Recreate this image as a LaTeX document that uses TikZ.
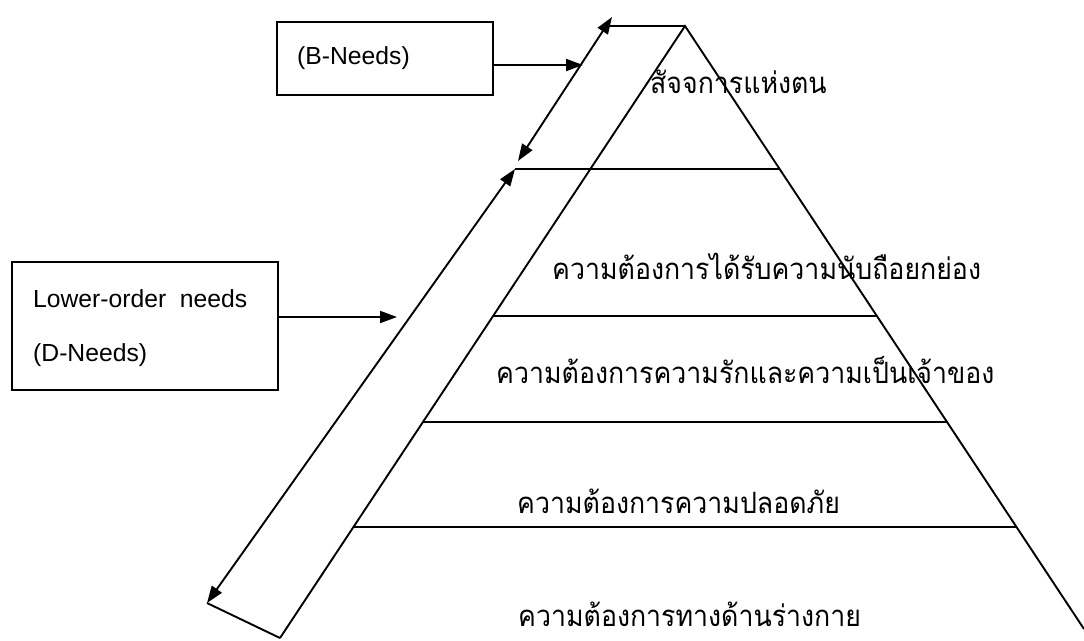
\documentclass[tikz,border=0pt]{standalone}
\usepackage{fontspec}
\usepackage{graphicx}
\setmainfont{Liberation Sans}
\newfontfamily\thaifont[Script=Thai]{Loma}
\newcommand{\thtext}[1]{\scalebox{1}[1.1]{#1}}
\usetikzlibrary{arrows.meta}
\begin{document}
\begin{tikzpicture}[x=1pt,y=-1pt,
  ln/.style={line width=1.9pt},
  arr/.style={ln,-{Triangle[length=17pt,width=12pt]}},
  darr/.style={ln,{Triangle[length=17pt,width=12pt]}-{Triangle[length=17pt,width=12pt]}},
  box/.style={draw,line width=1.9pt,inner sep=0pt},
  eng/.style={font=\fontsize{24.7}{54}\selectfont,inner sep=0pt},
  thai/.style={font=\thaifont\fontsize{26.7}{32}\selectfont,anchor=west,inner sep=0pt}]
\useasboundingbox (0,0) rectangle (1084,640);
% boxes
\node[box,minimum width=216pt,minimum height=73pt] (bbox) at (385,58.5) {};
\node[eng,anchor=west] (btext) at (297,58) {(B-Needs)};
\node[box,minimum width=266pt,minimum height=128pt] (dbox) at (145,326) {};
\node[eng,anchor=base west] (dtext1) at (33,307) {Lower-order\hspace{0.55em}needs};
\node[eng,anchor=base west] (dtext2) at (33,361) {(D-Needs)};
% pyramid
\coordinate (A) at (685,26);
\coordinate (BL) at (280,638);
\coordinate (BR) at (1084,629);
\draw[ln] (BL) -- (A) -- (BR);
\coordinate (L1a) at (515,169); \coordinate (L1b) at (779.8,169);
\coordinate (L2a) at (492.8,316); \coordinate (L2b) at (877.2,316);
\coordinate (L3a) at (422.5,422); \coordinate (L3b) at (947.5,422);
\coordinate (L4a) at (352.9,527); \coordinate (L4b) at (1017.1,527);
\draw[ln] (L1a) -- (L1b);
\draw[ln] (L2a) -- (L2b);
\draw[ln] (L3a) -- (L3b);
\draw[ln] (L4a) -- (L4b);
% outer band
\coordinate (T) at (612,17);
\coordinate (Ttop) at (606,26);
\coordinate (M1) at (518,161);
\coordinate (M2) at (515,169);
\coordinate (Bt) at (207,603);
\draw[ln] (A) -- (Ttop);
\draw[darr] (M1) -- (T);
\draw[darr] (M2) -- (Bt);
\draw[ln] (Bt) -- (BL);
% arrows from boxes
\coordinate (btip) at (583,65);
\coordinate (dtip) at (397,317);
\draw[arr] (bbox.east |- btip) -- (btip);
\draw[arr] (dbox.east |- dtip) -- (dtip);
% labels
\node[thai] (t1) at (650,82) {\thtext{สัจจการแห่งตน}};
\node[thai] (t2) at (552,266) {\thtext{ความต้องการได้รับความนับถือยกย่อง}};
\node[thai] (t3) at (496,370) {\thtext{ความต้องการความรักและความเป็นเจ้าของ}};
\node[thai] (t4) at (517,501) {\thtext{ความต้องการความปลอดภัย}};
\node[thai] (t5) at (518,614) {\thtext{ความต้องการทางด้านร่างกาย}};
\end{tikzpicture}
\end{document}
